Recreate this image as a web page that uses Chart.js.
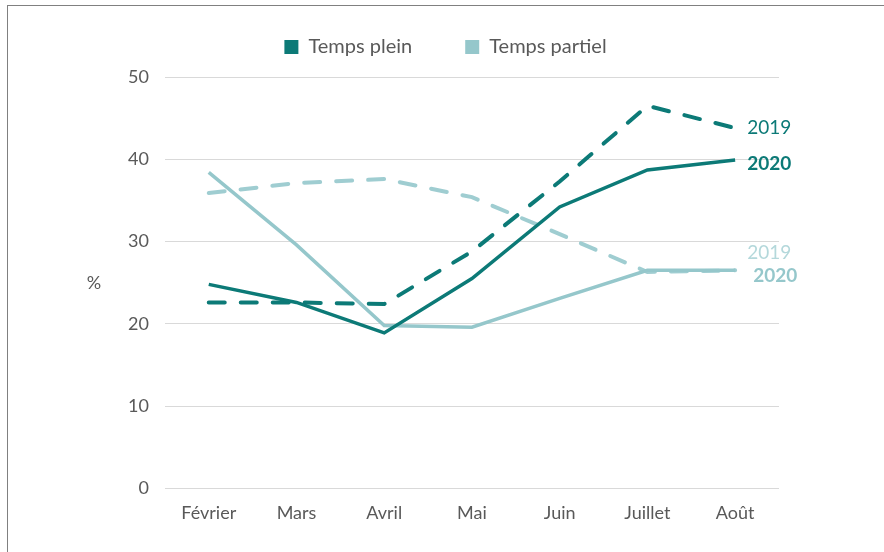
<!DOCTYPE html>
<html lang="fr">
<head>
<meta charset="utf-8">
<title>Temps plein / Temps partiel</title>
<script src="https://cdn.jsdelivr.net/npm/chart.js@4.4.1/dist/chart.umd.min.js"></script>
<style>
  html, body { margin: 0; padding: 0; background: #fff; overflow: hidden; }
  .frame { position: absolute; left: 7px; top: 5px; width: 1000px; height: 700px;
           border-left: 1px solid #808080; border-top: 1px solid #808080; }
  .wrap { position: absolute; left: 0; top: 0; width: 884px; height: 552px; }
</style>
</head>
<body>
<div class="frame"></div>
<div class="wrap"><canvas id="chart"></canvas></div>
<script>
/* ---- data ---- */
const months = ['Février', 'Mars', 'Avril', 'Mai', 'Juin', 'Juillet', 'Août'];
const yTicks = [0, 10, 20, 30, 40, 50];
const seriesNames = ['Temps plein', 'Temps partiel'];
const years = ['2019', '2020'];
const yUnit = '%';

const plein2020 = [24.8, 22.6, 18.9, 25.5, 34.2, 38.7, 39.9];
const plein2019 = [22.6, 22.6, 22.4, 28.8, 37.3, 46.5, 43.8];
const partiel2020 = [38.4, 29.6, 19.8, 19.6, 23.1, 26.5, 26.5];
const partiel2019 = [35.9, 37.1, 37.6, 35.4, 30.9, 26.3, 26.5];

/* ---- styles ---- */
const DARK = '#0c7a77';
const LIGHT = '#95c7cb';
const FONT = 'Lato, "Noto Sans", sans-serif';
const GREY = '#595959';

function lineSet(label, data, color, dashed, endLabel, endStyle) {
    return {
        label: label,
        data: data,
        borderColor: color,
        backgroundColor: color,
        borderWidth: dashed ? 4 : 3.5,
        borderDash: dashed ? [16, 16] : [],
        borderCapStyle: dashed ? 'round' : 'butt',
        pointRadius: 0,
        pointHoverRadius: 0,
        tension: 0,
        endLabel: endLabel,
        endStyle: endStyle
    };
}

// writes 2019 / 2020 next to the last point of each line
const endLabels = {
    id: 'endLabels',
    afterDatasetsDraw(chart) {
        const ctx = chart.ctx;
        chart.data.datasets.forEach((ds, i) => {
            const pts = chart.getDatasetMeta(i).data;
            const last = pts[pts.length - 1];
            const s = ds.endStyle;
            ctx.save();
            ctx.font = (s.bold ? 'bold ' : '') + '19px ' + FONT;
            ctx.fillStyle = s.color;
            ctx.textAlign = 'left';
            ctx.textBaseline = 'middle';
            ctx.fillText(ds.endLabel, last.x + s.dx, last.y + s.dy);
            ctx.restore();
        });
    }
};

// horizontal "%" left of the y axis
const unitLabel = {
    id: 'unitLabel',
    afterDraw(chart) {
        const a = chart.chartArea;
        const ctx = chart.ctx;
        ctx.save();
        ctx.font = '18px ' + FONT;
        ctx.fillStyle = GREY;
        ctx.textAlign = 'center';
        ctx.textBaseline = 'middle';
        ctx.fillText(yUnit, a.left - 71, (a.top + a.bottom) / 2);
        ctx.restore();
    }
};

// extra gap under the legend
const legendGap = {
    id: 'legendGap',
    beforeInit(chart) {
        const fit = chart.legend.fit;
        chart.legend.fit = function () {
            fit.bind(chart.legend)();
            this.height += 10;
        };
    }
};

new Chart(document.getElementById('chart'), {
    type: 'line',
    data: {
        labels: months,
        datasets: [
            lineSet(seriesNames[0], plein2020, DARK, false, years[1], { color: DARK, bold: true, dx: 12, dy: 4 }),
            lineSet(seriesNames[1], partiel2020, LIGHT, false, years[1], { color: LIGHT, bold: true, dx: 18, dy: 6 }),
            lineSet(seriesNames[0] + ' ' + years[0], plein2019, DARK, true, years[0], { color: DARK, bold: false, dx: 12, dy: 0 }),
            lineSet(seriesNames[1] + ' ' + years[0], partiel2019, '#9fcdd1', true, years[0], { color: '#b4d8db', bold: false, dx: 12, dy: -17 })
        ]
    },
    options: {
        responsive: true,
        maintainAspectRatio: false,
        animation: false,
        layout: { padding: { top: -16, left: 112, right: 105, bottom: 14 } },
        plugins: {
            tooltip: { enabled: false },
            legend: {
                position: 'top',
                labels: {
                    font: { family: FONT, size: 20 },
                    color: GREY,
                    boxWidth: 14,
                    boxHeight: 14,
                    padding: 53,
                    generateLabels(chart) {
                        return Chart.defaults.plugins.legend.labels.generateLabels(chart)
                            .filter(l => seriesNames.includes(l.text))
                            .map(l => Object.assign(l, { lineWidth: 0, lineDash: [] }));
                    }
                }
            }
        },
        scales: {
            x: {
                offset: true,
                grid: { display: false, drawTicks: false },
                border: { display: false },
                ticks: { font: { family: FONT, size: 18 }, color: GREY, padding: 14, maxRotation: 0 }
            },
            y: {
                min: yTicks[0],
                max: yTicks[yTicks.length - 1],
                afterBuildTicks(scale) { scale.ticks = yTicks.map(v => ({ value: v })); },
                grid: { color: '#d9d9d9', lineWidth: 1, drawTicks: false },
                border: { display: false },
                ticks: { font: { family: FONT, size: 18 }, color: GREY, padding: 16 }
            }
        }
    },
    plugins: [endLabels, unitLabel, legendGap]
});
</script>
</body>
</html>
